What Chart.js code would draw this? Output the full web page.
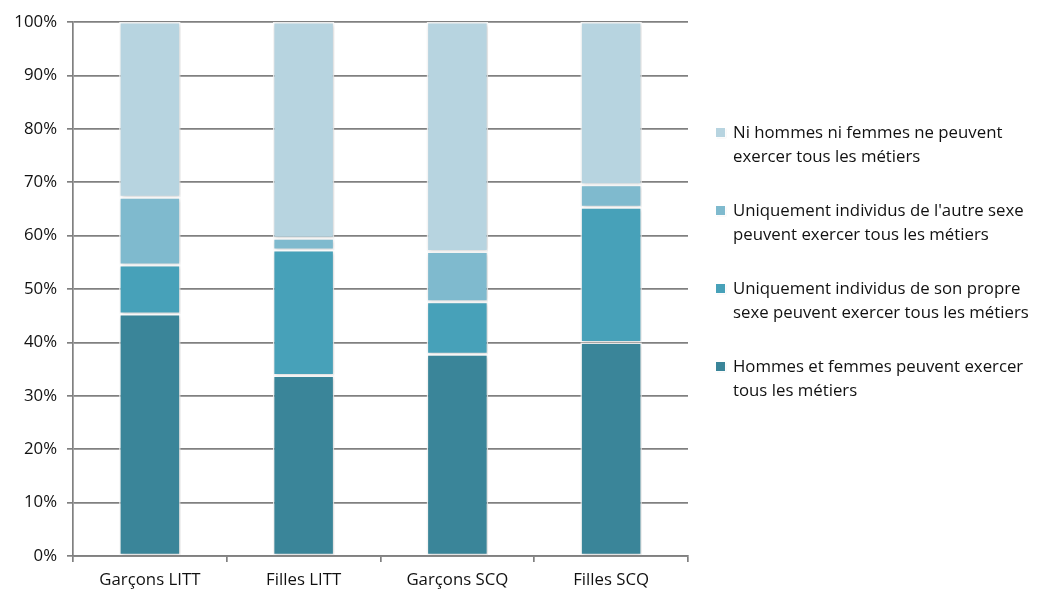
<!DOCTYPE html>
<html lang="fr">
<head>
<meta charset="utf-8">
<script src="https://cdn.jsdelivr.net/npm/chart.js@4.4.1/dist/chart.umd.min.js"></script>
<style>
  html, body { margin: 0; padding: 0; background: #fff; }
  #wrap { position: relative; width: 1039px; height: 590px; }
  #chart { position: absolute; left: 0; top: 0; }
  #legend { position: absolute; left: 714px; top: 120px; font-family: "Open Sans", sans-serif; font-size: 16.8px; color: #111; }
  .item { position: absolute; left: 0; width: 330px; line-height: 24px; padding-left: 19px; white-space: nowrap; }
  .swatch { position: absolute; left: 2px; top: 8px; width: 9px; height: 9px; box-shadow: 0 0 0 1px rgba(255,255,255,0.9), 1px 1px 1px rgba(0,0,0,0.15); }
</style>
</head>
<body>
<div id="wrap">
  <canvas id="chart" width="1039" height="590"></canvas>
  <div id="legend"></div>
</div>
<script>
const categories = ['Garçons LITT', 'Filles LITT', 'Garçons SCQ', 'Filles SCQ'];

const hommesEtFemmes = [45.3, 33.8, 37.8, 40.0];
const sonPropreSexe = [9.2, 23.5, 9.8, 25.3];
const autreSexe = [12.7, 2.2, 9.4, 4.2];
const niHommesNiFemmes = [32.8, 40.5, 43.0, 30.5];

const seriesNames = [
  ['Hommes et femmes peuvent exercer', 'tous les métiers'],
  ['Uniquement individus de son propre', 'sexe peuvent exercer tous les métiers'],
  ['Uniquement individus de l\'autre sexe', 'peuvent exercer tous les métiers'],
  ['Ni hommes ni femmes ne peuvent', 'exercer tous les métiers']
];
const seriesColors = ['#3a8599', '#47a1b9', '#7fbace', '#b7d4e0'];
const yTicks = [0, 10, 20, 30, 40, 50, 60, 70, 80, 90, 100];

const seriesValues = [hommesEtFemmes, sonPropreSexe, autreSexe, niHommesNiFemmes];

const datasets = seriesValues.map((vals, i) => ({
  label: seriesNames[i].join(' '),
  data: vals,
  backgroundColor: seriesColors[i],
  borderColor: 'rgba(255,255,255,0.85)',
  borderWidth: 1.5,
  borderSkipped: false,
  categoryPercentage: 1,
  barPercentage: 0.4
}));

// soft drop shadow behind the stacked columns
const barShadow = {
  id: 'barShadow',
  beforeDatasetsDraw(chart) {
    const ctx = chart.ctx;
    ctx.save();
    ctx.shadowColor = 'rgba(0,0,0,0.18)';
    ctx.shadowBlur = 4;
    ctx.shadowOffsetX = 1;
    ctx.shadowOffsetY = 1;
  },
  afterDatasetsDraw(chart) {
    chart.ctx.restore();
  }
};

const tickFont = { family: '"Open Sans", sans-serif', size: 16.8 };

new Chart(document.getElementById('chart'), {
  type: 'bar',
  data: { labels: categories, datasets },
  options: {
    responsive: false,
    animation: false,
    layout: { padding: { top: 22, right: 351, left: 0, bottom: 0 } },
    plugins: { legend: { display: false }, tooltip: { enabled: false } },
    scales: {
      x: {
        stacked: true,
        grid: { drawOnChartArea: false, drawTicks: true, tickLength: 6, color: '#808080', lineWidth: 1.7 },
        border: { color: '#808080', width: 1.7 },
        ticks: { font: tickFont, color: '#111', padding: 8 },
        afterFit(scale) { scale.height = 34; }
      },
      y: {
        stacked: true,
        min: 0,
        max: 100,
        afterBuildTicks(scale) { scale.ticks = yTicks.map(v => ({ value: v })); },
        grid: { color: '#808080', lineWidth: 1.7, drawTicks: true, tickLength: 6 },
        border: { color: '#808080', width: 1.7 },
        ticks: { font: tickFont, color: '#111', padding: 10, callback: v => v + '%' },
        afterFit(scale) { scale.width = 73; }
      }
    }
  },
  plugins: [barShadow]
});

// legend, top series first
const legend = document.getElementById('legend');
for (let k = 0; k < seriesNames.length; k++) {
  const i = seriesNames.length - 1 - k;
  const item = document.createElement('div');
  item.className = 'item';
  item.style.top = (k * 78) + 'px';
  const sw = document.createElement('span');
  sw.className = 'swatch';
  sw.style.background = seriesColors[i];
  item.appendChild(sw);
  item.appendChild(document.createTextNode(seriesNames[i][0]));
  item.appendChild(document.createElement('br'));
  item.appendChild(document.createTextNode(seriesNames[i][1]));
  legend.appendChild(item);
}
</script>
</body>
</html>
